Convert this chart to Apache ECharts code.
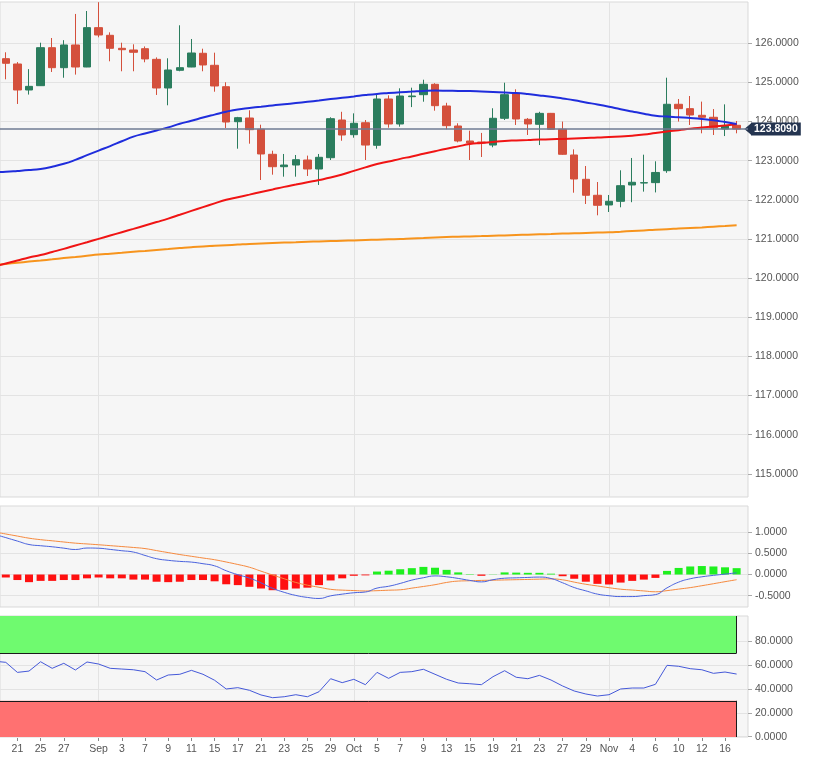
<!DOCTYPE html>
<html><head><meta charset="utf-8">
<script src="https://cdn.jsdelivr.net/npm/echarts@6/dist/echarts.min.js"></script>
<style>html,body{margin:0;padding:0;background:#fff}#c{width:820px;height:768px}</style>
</head><body><div id="c"></div>
<script>
// Trading days (first one, Aug 19, lies just left of the visible window)
const dates = ['Aug 19','Aug 20','Aug 21','Aug 24','Aug 25','Aug 26','Aug 27','Aug 28','Aug 31',
'Sep 1','Sep 2','Sep 3','Sep 4','Sep 7','Sep 8','Sep 9','Sep 10','Sep 11','Sep 14','Sep 15','Sep 16','Sep 17','Sep 18','Sep 21','Sep 22','Sep 23','Sep 24','Sep 25','Sep 28','Sep 29','Sep 30',
'Oct 1','Oct 2','Oct 5','Oct 6','Oct 7','Oct 8','Oct 9','Oct 12','Oct 13','Oct 14','Oct 15','Oct 16','Oct 19','Oct 20','Oct 21','Oct 22','Oct 23','Oct 26','Oct 27','Oct 28','Oct 29','Oct 30',
'Nov 2','Nov 3','Nov 4','Nov 5','Nov 6','Nov 9','Nov 10','Nov 11','Nov 12','Nov 13','Nov 16','Nov 17'];
const axisLabels = ['','','21','','25','','27','','',
'Sep','','3','','7','','9','','11','','15','','17','','21','','23','','25','','29','',
'Oct','','5','','7','','9','','13','','15','','19','','21','','23','','27','','29','',
'Nov','','4','','6','','10','','12','','16',''];
const monthStarts = ['Sep 1','Oct 1','Nov 2'];

const open  = [null,125.607,125.471,124.807,124.917,125.888,125.377,125.957,125.394,126.40,126.204,125.872,125.829,125.862,125.59,124.858,125.31,125.394,125.745,125.438,124.891,123.997,124.091,123.803,123.164,122.847,122.89,123.018,122.788,123.077,124.04,123.665,123.97,123.394,124.577,123.938,124.636,124.687,124.952,124.398,123.887,123.504,123.478,123.40,124.084,124.722,124.058,123.93,124.21,123.803,123.146,122.525,122.117,121.869,121.963,122.38,122.43,122.44,122.745,124.442,124.33,124.16,124.11,123.81,123.905];
const close = [null,125.489,124.807,124.90,125.888,125.377,125.957,125.394,126.40,126.212,125.872,125.836,125.77,125.60,124.858,125.318,125.377,125.752,125.446,124.909,123.989,124.10,123.793,123.172,122.847,122.89,123.026,122.788,123.087,124.074,123.657,123.956,123.40,124.577,123.938,124.653,124.653,124.952,124.406,123.895,123.504,123.453,123.453,124.084,124.687,124.066,123.938,124.21,123.803,123.164,122.533,122.117,121.861,121.963,122.362,122.449,122.44,122.70,124.442,124.33,124.168,124.11,123.844,123.90,123.809];
const high  = [null,125.77,125.52,125.34,126.015,126.135,126.08,126.75,126.825,127.05,126.28,126.015,125.974,125.92,125.64,125.617,126.46,126.11,125.862,125.76,125.004,124.12,124.288,123.92,123.256,123.172,123.146,123.13,123.172,124.11,124.25,124.21,124.04,124.68,124.67,124.85,124.866,125.07,124.98,124.48,123.956,123.767,123.71,124.34,124.993,124.825,124.09,124.25,124.22,124.0,123.29,122.865,122.456,122.124,122.755,123.07,123.154,122.985,125.121,124.577,124.653,124.51,124.32,124.44,124.015];
const low   = [null,125.08,124.45,124.69,124.91,125.267,125.12,125.20,125.39,126.153,125.54,125.285,125.285,125.515,124.68,124.416,125.285,125.39,125.285,124.763,123.836,123.307,123.435,122.507,122.643,122.592,122.592,122.61,122.38,123.018,123.51,123.588,123.018,123.307,123.844,123.87,124.37,124.508,124.278,123.803,123.47,123.018,123.095,123.343,124.04,123.913,123.657,123.40,123.79,123.15,122.183,121.894,121.605,121.69,121.81,121.94,122.21,122.19,122.69,124.0,123.913,123.70,123.657,123.63,123.70];

const maBlue   = [122.707,122.717,122.737,122.760,122.791,122.847,122.921,123.021,123.141,123.259,123.374,123.496,123.616,123.695,123.772,123.851,123.943,124.020,124.102,124.178,124.252,124.311,124.347,124.380,124.413,124.441,124.472,124.505,124.539,124.574,124.608,124.641,124.677,124.707,124.728,124.748,124.766,124.784,124.792,124.789,124.784,124.781,124.769,124.756,124.743,124.728,124.702,124.669,124.633,124.590,124.546,124.490,124.436,124.378,124.316,124.258,124.201,124.150,124.127,124.112,124.091,124.066,124.033,123.987,123.938];
const maRed    = [120.297,120.374,120.451,120.527,120.591,120.668,120.747,120.834,120.918,121.003,121.089,121.174,121.258,121.345,121.432,121.521,121.618,121.718,121.815,121.910,122.002,122.068,122.134,122.201,122.265,122.331,122.390,122.449,122.507,122.569,122.648,122.740,122.829,122.916,122.980,123.047,123.110,123.177,123.243,123.307,123.366,123.425,123.453,123.481,123.506,123.517,123.527,123.540,123.547,123.557,123.568,123.580,123.591,123.606,123.621,123.639,123.667,123.708,123.747,123.780,123.816,123.846,123.874,123.902,123.930];
const maOrange = [120.333,120.364,120.392,120.423,120.451,120.481,120.512,120.540,120.571,120.601,120.624,120.647,120.673,120.696,120.719,120.742,120.767,120.791,120.811,120.826,120.842,120.857,120.872,120.883,120.895,120.908,120.918,120.929,120.939,120.946,120.957,120.964,120.974,120.982,120.992,121.000,121.013,121.023,121.036,121.049,121.059,121.066,121.074,121.084,121.092,121.102,121.110,121.120,121.128,121.138,121.146,121.153,121.164,121.171,121.187,121.204,121.220,121.238,121.250,121.266,121.281,121.296,121.314,121.332,121.350];

const macdLine   = [0.951,0.87,0.789,0.708,0.679,0.654,0.622,0.59,0.625,0.62,0.592,0.561,0.53,0.45,0.373,0.335,0.31,0.293,0.255,0.205,0.089,-0.004,-0.084,-0.197,-0.325,-0.42,-0.493,-0.54,-0.565,-0.503,-0.463,-0.43,-0.412,-0.32,-0.277,-0.21,-0.132,-0.076,-0.033,-0.054,-0.092,-0.139,-0.174,-0.122,-0.087,-0.078,-0.069,-0.06,-0.094,-0.195,-0.307,-0.385,-0.462,-0.50,-0.52,-0.52,-0.498,-0.474,-0.315,-0.18,-0.10,-0.054,-0.02,0.01,0.04];
const signalLine = [1.005,0.956,0.907,0.857,0.822,0.795,0.767,0.74,0.721,0.702,0.681,0.66,0.638,0.612,0.564,0.517,0.471,0.43,0.389,0.349,0.295,0.237,0.172,0.079,-0.012,-0.10,-0.187,-0.251,-0.30,-0.349,-0.368,-0.378,-0.388,-0.381,-0.37,-0.36,-0.321,-0.282,-0.24,-0.187,-0.155,-0.147,-0.139,-0.134,-0.128,-0.122,-0.116,-0.109,-0.103,-0.125,-0.179,-0.23,-0.27,-0.311,-0.346,-0.366,-0.387,-0.407,-0.38,-0.344,-0.309,-0.264,-0.217,-0.169,-0.122];
const histogram  = [-0.05,-0.07,-0.13,-0.18,-0.15,-0.15,-0.13,-0.13,-0.09,-0.07,-0.09,-0.09,-0.12,-0.12,-0.17,-0.18,-0.17,-0.13,-0.13,-0.16,-0.23,-0.25,-0.29,-0.33,-0.37,-0.36,-0.33,-0.31,-0.25,-0.14,-0.09,-0.03,-0.02,0.07,0.09,0.125,0.15,0.18,0.16,0.11,0.05,0.01,-0.03,0.005,0.05,0.045,0.04,0.04,0.02,-0.04,-0.10,-0.17,-0.22,-0.235,-0.19,-0.15,-0.12,-0.08,0.085,0.155,0.19,0.20,0.19,0.17,0.15];

const rsi = [63.2,62.2,53.8,54.9,62.7,57.2,61.4,55.8,62.5,60.8,57.2,56.6,56.0,54.4,47.4,51.6,52.2,55.5,52.2,47.2,39.9,41.0,38.8,34.9,32.6,33.4,35.1,33.4,37.6,48.5,45.2,48.0,43.5,53.8,48.8,53.8,54.4,56.4,52.2,48.0,44.9,44.3,43.5,50.2,55.2,49.7,48.5,51.3,47.4,42.4,38.2,35.7,34.0,35.1,39.9,40.7,40.7,43.8,59.7,58.9,56.9,56.0,53.0,54.1,52.4];
const rsiUpper = 70, rsiLower = 30;

const priceTicks = [115,116,117,118,119,120,121,122,123,124,125,126];
const macdTicks = [-0.5,0,0.5,1.0];
const rsiTicks = [0,20,40,60,80];
const lastPrice = 123.809;

// visible window (in day-index units)
const X_MIN = 0.5, X_MAX = 64.98;
const Y_PRICE = [114.408, 127.055];
const Y_MACD = [-0.766, 1.616];
const Y_RSI = [-0.3, 101];

const font = 'Arial, "Liberation Sans", sans-serif';
const pairs = arr => arr.map((v, i) => [i, v]);
const candles = dates.map((d, i) => open[i] == null ? null : [i, open[i], close[i], low[i], high[i]]).filter(Boolean);
const monthIdx = monthStarts.map(m => dates.indexOf(m));
const gridBase = {show: true, backgroundColor: '#f6f6f6', borderColor: '#d9d9d9', borderWidth: 1};
const vLines = monthIdx.map(i => ({xAxis: i}));
const gridLineStyle = {color: '#e3e3e3', width: 1, type: 'solid'};
const fmt = ticks => v => ticks.some(t => Math.abs(t - v) < 1e-6) ? v.toFixed(4) : '';
const yAxisFor = (gridIndex, range, ticks, step, split) => ({
  gridIndex, position: 'right', min: range[0], max: range[1], minInterval: step, maxInterval: step,
  axisLine: {show: false},
  splitLine: {show: !!split, lineStyle: gridLineStyle},
  axisTick: {show: true, length: 4, customValues: ticks, lineStyle: {color: '#aaa'}},
  axisLabel: {customValues: ticks, formatter: fmt(ticks), color: '#555', fontSize: 10.5, fontFamily: font, margin: 7}
});
// the visible days (label axis spans exactly these day bands)
const visDates = dates.slice(1), visLabels = axisLabels.slice(1);
const bandPx = 748 / (X_MAX - X_MIN);

const chart = echarts.init(document.getElementById('c'), null, {renderer: 'canvas'});
chart.setOption({
  animation: false,
  backgroundColor: '#ffffff',
  grid: [
    Object.assign({left: 0, top: 2, width: 748, height: 495}, gridBase),
    Object.assign({left: 0, top: 506, width: 748, height: 101}, gridBase),
    Object.assign({left: 0, top: 616, width: 748, height: 121}, gridBase),
    {left: 0, top: 737, width: bandPx * visDates.length, height: 1, show: false}
  ],
  xAxis: [
    {type: 'value', gridIndex: 0, min: X_MIN, max: X_MAX, show: false},
    {type: 'value', gridIndex: 1, min: X_MIN, max: X_MAX, show: false},
    {type: 'value', gridIndex: 2, min: X_MIN, max: X_MAX, show: false},
    {type: 'category', gridIndex: 3, data: visDates, boundaryGap: true,
      axisLine: {show: false},
      axisTick: {show: true, alignWithLabel: true, length: 3, interval: i => visLabels[i] !== '', lineStyle: {color: '#888'}},
      axisLabel: {interval: i => visLabels[i] !== '', formatter: (v, i) => visLabels[i], color: '#555', fontSize: 10.5, fontFamily: font, margin: 6}}
  ],
  yAxis: [
    yAxisFor(0, Y_PRICE, priceTicks, 1, false),
    yAxisFor(1, Y_MACD, macdTicks, 0.5, false),
    yAxisFor(2, Y_RSI, rsiTicks, 20, true),
    {gridIndex: 3, show: false}
  ],
  series: [
    {
      type: 'candlestick', xAxisIndex: 0, yAxisIndex: 0, data: candles, barWidth: 8, z: 2, clip: false,
      itemStyle: {color: '#2b7d5e', color0: '#d4503c', borderColor: '#2b7d5e', borderColor0: '#d4503c', borderWidth: 1},
      markLine: {silent: true, symbol: 'none', z: 6, animation: false,
        data: [{yAxis: lastPrice}],
        lineStyle: {color: '#6f7b93', width: 1.6, type: 'solid'},
        label: {show: true, position: 'end', distance: 3, formatter: lastPrice.toFixed(4),
          backgroundColor: '#243450', color: '#fff', fontWeight: 'bold', fontSize: 10.5, fontFamily: font,
          padding: [1, 3, 1, 3], lineHeight: 11}},
      markPoint: {silent: true, animation: false,
        data: [{coord: [X_MAX - 0.01, lastPrice], symbol: 'triangle', symbolRotate: 90, symbolSize: [12, 7]}],
        itemStyle: {color: '#243450'}, label: {show: false}}
    },
    {
      type: 'line', xAxisIndex: 0, yAxisIndex: 0, data: pairs(maOrange), showSymbol: false, smooth: true, z: 3,
      lineStyle: {color: '#f7941d', width: 2},
      markLine: {silent: true, symbol: 'none', z: 1, animation: false, label: {show: false},
        lineStyle: gridLineStyle,
        data: priceTicks.map(t => ({yAxis: t})).concat(vLines)}
    },
    {type: 'line', xAxisIndex: 0, yAxisIndex: 0, data: pairs(maRed), showSymbol: false, smooth: true, z: 4,
      lineStyle: {color: '#f01414', width: 2}},
    {type: 'line', xAxisIndex: 0, yAxisIndex: 0, data: pairs(maBlue), showSymbol: false, smooth: true, z: 4,
      lineStyle: {color: '#1f2ddc', width: 2}},
    {
      type: 'bar', xAxisIndex: 1, yAxisIndex: 1, data: pairs(histogram), barWidth: 8, z: 2,
      itemStyle: {color: p => p.value[1] >= 0 ? '#1ef01e' : '#ff1010'},
      markLine: {silent: true, symbol: 'none', z: 1, animation: false, label: {show: false},
        lineStyle: gridLineStyle,
        data: macdTicks.map(t => ({yAxis: t})).concat(vLines)}
    },
    {type: 'line', xAxisIndex: 1, yAxisIndex: 1, data: pairs(signalLine), showSymbol: false, smooth: true, z: 3,
      lineStyle: {color: '#f5893e', width: 1}},
    {type: 'line', xAxisIndex: 1, yAxisIndex: 1, data: pairs(macdLine), showSymbol: false, smooth: true, z: 4,
      lineStyle: {color: '#4a62dd', width: 1}},
    {
      type: 'line', xAxisIndex: 2, yAxisIndex: 2, data: pairs(rsi), showSymbol: false, z: 4,
      lineStyle: {color: '#4458d8', width: 1},
      markArea: {silent: true, animation: false, z: 2,
        data: [
          [{xAxis: X_MIN, yAxis: rsiUpper, itemStyle: {color: '#6ffa6f'}}, {xAxis: dates.length - 1, yAxis: Y_RSI[1]}],
          [{xAxis: X_MIN, yAxis: Y_RSI[0], itemStyle: {color: '#ff7171'}}, {xAxis: dates.length - 1, yAxis: rsiLower}]
        ]},
      markLine: {silent: true, symbol: 'none', z: 3, animation: false, label: {show: false},
        lineStyle: {color: '#1a1a1a', width: 1, type: 'solid'},
        data: [
          [{coord: [X_MIN, rsiUpper]}, {coord: [dates.length - 1, rsiUpper]}],
          [{coord: [X_MIN, rsiLower]}, {coord: [dates.length - 1, rsiLower]}],
          [{coord: [dates.length - 1, rsiUpper]}, {coord: [dates.length - 1, Y_RSI[1]]}],
          [{coord: [dates.length - 1, Y_RSI[0]]}, {coord: [dates.length - 1, rsiLower]}]
        ]}
    },
    {type: 'line', xAxisIndex: 2, yAxisIndex: 2, data: [], 
      markLine: {silent: true, symbol: 'none', z: 1, animation: false, label: {show: false},
        lineStyle: gridLineStyle, data: vLines}}
  ]
});
</script>
</body></html>
